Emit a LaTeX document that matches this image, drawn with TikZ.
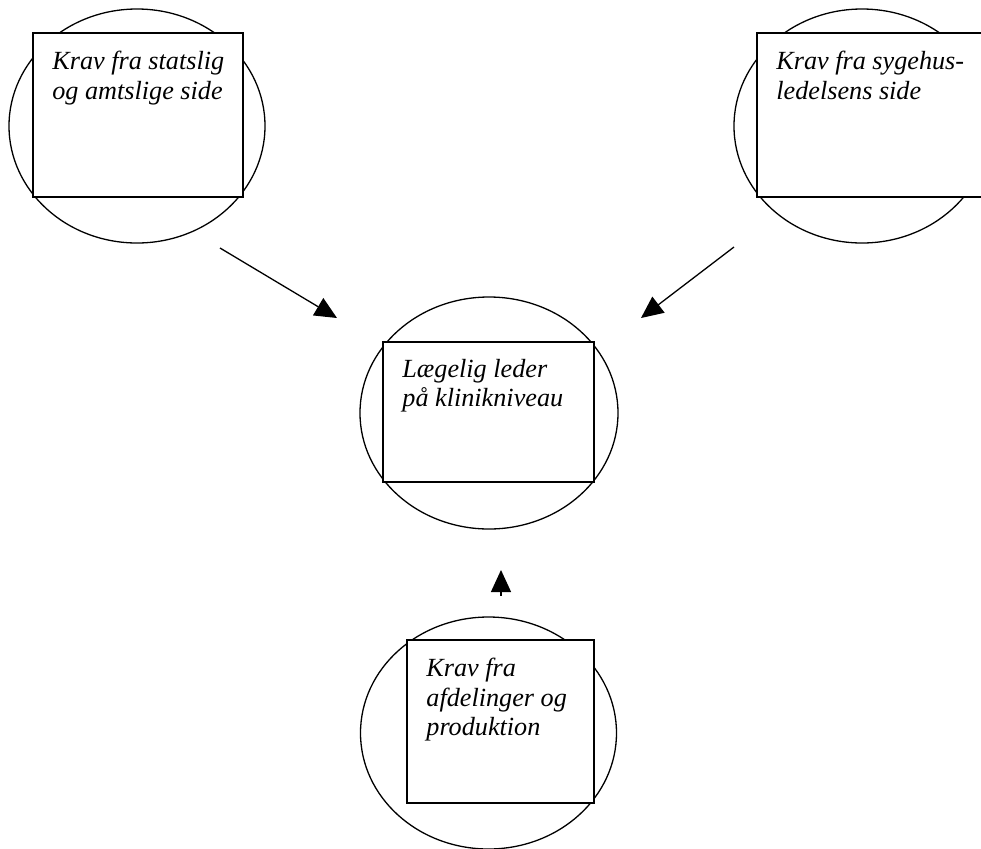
\documentclass[tikz,border=0pt]{standalone}
\usepackage{fontspec}
\setmainfont{Liberation Serif}
\usetikzlibrary{
   arrows.meta,
   positioning,
   shapes.geometric
}

\begin{document}
\begin{tikzpicture}[
    x=0.5pt, y=-0.5pt,
    ring/.style={ellipse, draw, line width=0.65pt, inner sep=0pt, minimum width=128pt, minimum height=117pt},
    box/.style={rectangle, draw, fill=white, line width=1pt, inner sep=0pt},
    txt/.style={inner sep=0pt, align=left, font=\fontsize{13.1}{14.6}\selectfont\itshape},
    arr/.style={-{Triangle[length=11pt,width=10pt]}, line width=0.65pt}
]
\useasboundingbox (0,0) rectangle (981,848);

% state and county
\node[ring] (ringS) at (137,126) {};
\node[box, minimum width=105pt, minimum height=82pt] (boxS) at (138,115) {};
\node[txt, below right=9.5pt and 10pt of boxS.north west] (txtS) {Krav fra statslig\\og amtslige side};

% hospital management
\node[ring] (ringH) at (862,126) {};
\node[box, minimum width=116.5pt, minimum height=82pt] (boxH) at (873.5,115) {};
\node[txt, below right=9.5pt and 10pt of boxH.north west] (txtH) {Krav fra sygehus-\\ledelsens side};

% clinical leader
\node[ring, minimum width=129pt, minimum height=116pt] (ringL) at (489,413) {};
\node[box, minimum width=105.5pt, minimum height=70pt] (boxL) at (488.5,412) {};
\node[txt, below right=9pt and 10pt of boxL.north west] (txtL) {Lægelig leder\\på klinikniveau};

% departments
\node[ring, minimum height=116pt] (ringD) at (488.5,733) {};
\node[box, minimum width=93.5pt, minimum height=81.5pt] (boxD) at (500.5,721.5) {};
\node[txt, below right=9.5pt and 10pt of boxD.north west] (txtD) {Krav fra\\afdelinger og\\produktion};

% arrows
\coordinate (fromS) at (220,248);
\coordinate (toS) at (337,318);
\coordinate (fromH) at (734,247);
\coordinate (toH) at (641,318);
\coordinate (fromD) at (501,596);
\coordinate (toD) at (501,570);

\draw[arr] (fromS) -- (toS);
\draw[arr] (fromH) -- (toH);
\draw[arr] (fromD) -- (toD);

\end{tikzpicture}
\end{document}
